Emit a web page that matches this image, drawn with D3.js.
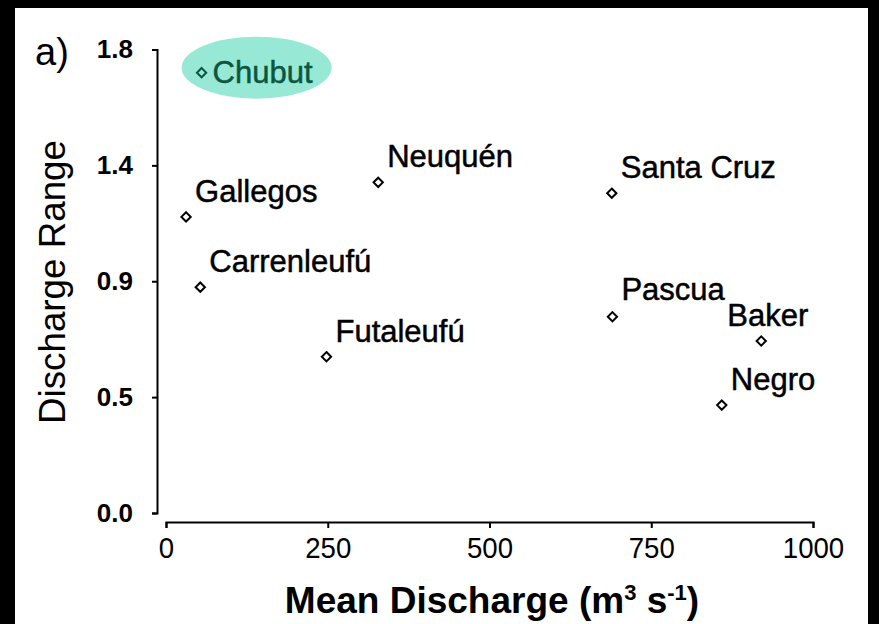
<!DOCTYPE html>
<html>
<head>
<meta charset="utf-8">
<script src="https://cdn.jsdelivr.net/npm/d3@7"></script>
<style>
  html, body { margin: 0; padding: 0; background: #000; }
  svg { display: block; }
  text { font-family: "Liberation Sans", Arial, sans-serif; }
</style>
</head>
<body>
<div id="viz-container"></div>
<script>
// river data
const rivers = ["Chubut", "Gallegos", "Carrenleufú", "Neuquén", "Futaleufú",
                "Santa Cruz", "Pascua", "Baker", "Negro"];
const meanDischarge = [55, 31, 53, 328, 248, 689, 690, 920, 859];
const dischargeRange = [1.71, 1.15, 0.877, 1.284, 0.607, 1.242, 0.762, 0.668, 0.419];
const highlighted = ["Chubut"];

const xTicks = [0, 250, 500, 750, 1000];
const yTicks = [0, 0.45, 0.9, 1.35, 1.8];
const yTickLabels = ["0.0", "0.5", "0.9", "1.4", "1.8"];

const data = rivers.map((name, i) => ({
    name: name, x: meanDischarge[i], y: dischargeRange[i]
}));

// 1) SVG with black frame and white panel
const W = 879, H = 624;
const svg = d3.select("#viz-container")
    .append("svg")
    .attr("width", W)
    .attr("height", H);

svg.append("rect")
    .attr("x", 15).attr("y", 8)
    .attr("width", 853).attr("height", H - 8)
    .attr("fill", "#fff");

// 2) Scales
const x = d3.scaleLinear().domain([0, 1000]).range([166, 813]);
const y = d3.scaleLinear().domain([0, 1.8]).range([513, 49.5]);

// 3) Axes (separated, old-style)
const yAxis = svg.append("g")
    .attr("transform", "translate(157,0)")
    .call(d3.axisLeft(y)
        .tickValues(yTicks)
        .tickFormat((d, i) => yTickLabels[i])
        .tickSize(5)
        .tickPadding(19));

const xAxis = svg.append("g")
    .attr("transform", "translate(0,522)")
    .call(d3.axisBottom(x)
        .tickValues(xTicks)
        .tickFormat(d3.format("d"))
        .tickSize(6)
        .tickPadding(9));

[yAxis, xAxis].forEach(g => {
    g.selectAll("path, line").attr("stroke", "#000").attr("stroke-width", 2);
});
yAxis.selectAll("text")
    .attr("font-size", "26px")
    .attr("font-weight", "bold")
    .attr("fill", "#000");
xAxis.selectAll("text")
    .attr("font-size", "30px")
    .attr("fill", "#000")
    .attr("transform", "scale(0.92,1)")
    .attr("x", function () { return 0; });

// 4) Highlight ellipse behind Chubut
data.filter(d => highlighted.includes(d.name)).forEach(d => {
    svg.append("ellipse")
        .attr("cx", x(d.x) + 55)
        .attr("cy", y(d.y) - 5)
        .attr("rx", 75)
        .attr("ry", 31)
        .attr("fill", "#97e9d5");
});

// 5) Points (small open diamonds)
const diamond = d3.symbol().type(d3.symbolDiamond2).size(55);
svg.selectAll("path.pt")
    .data(data)
    .enter().append("path")
    .attr("class", "pt")
    .attr("d", diamond)
    .attr("transform", d => `translate(${x(d.x)},${y(d.y)})`)
    .attr("fill", "none")
    .attr("stroke", d => highlighted.includes(d.name) ? "#0b5640" : "#000")
    .attr("stroke-width", 2);

// 6) Labels
svg.selectAll("text.lbl")
    .data(data)
    .enter().append("text")
    .attr("class", "lbl")
    .attr("x", d => {
        if (d.name === "Baker") return x(d.x) - 34;
        if (highlighted.includes(d.name)) return x(d.x) + 11;
        return x(d.x) + 9;
    })
    .attr("y", d => {
        if (highlighted.includes(d.name)) return y(d.y) + 10;
        if (d.name === "Pascua") return y(d.y) - 17;
        return y(d.y) - 15;
    })
    .attr("font-size", "31px")
    .attr("fill", d => highlighted.includes(d.name) ? "#0b5640" : "#000")
    .attr("stroke", d => highlighted.includes(d.name) ? "#0b5640" : "#000")
    .attr("stroke-width", 0.5)
    .text(d => d.name);

// 7) Titles
svg.append("text")
    .attr("x", 35)
    .attr("y", 65)
    .attr("font-size", "38px")
    .text("a)");

svg.append("text")
    .attr("transform", "translate(65,282) rotate(-90)")
    .attr("text-anchor", "middle")
    .attr("font-size", "36px")
    .attr("textLength", 284)
    .attr("lengthAdjust", "spacingAndGlyphs")
    .text("Discharge Range");

const xt = svg.append("text")
    .attr("x", 492)
    .attr("y", 613)
    .attr("text-anchor", "middle")
    .attr("font-size", "37px")
    .attr("font-weight", "bold");
xt.append("tspan").text("Mean Discharge (m");
xt.append("tspan").attr("font-size", "22px").attr("dy", -13).text("3");
xt.append("tspan").attr("dy", 13).text(" s");
xt.append("tspan").attr("font-size", "22px").attr("dy", -13).text("-1");
xt.append("tspan").attr("dy", 13).text(")");
</script>
</body>
</html>
